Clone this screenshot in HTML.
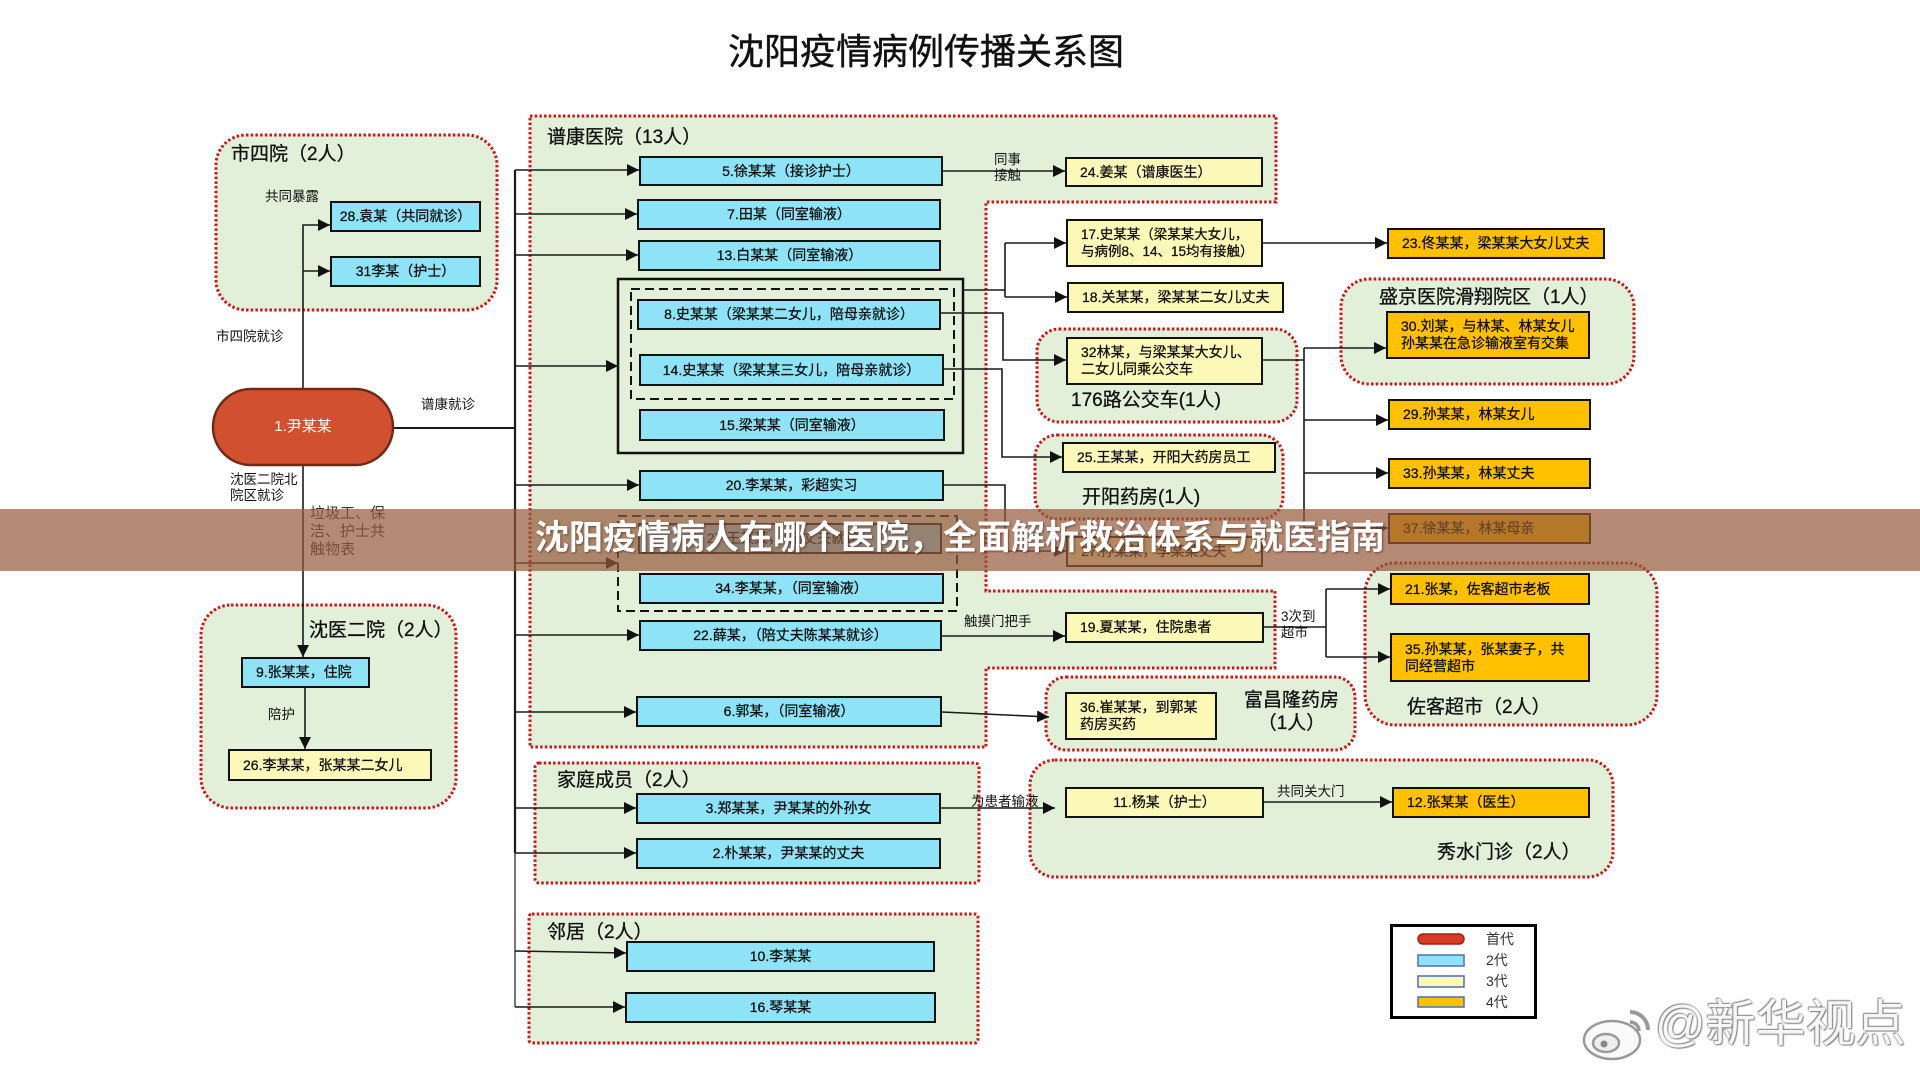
<!DOCTYPE html>
<html><head><meta charset="utf-8">
<style>
html,body{margin:0;padding:0;background:#fff;}
#c{position:relative;width:1920px;height:1080px;overflow:hidden;background:#fff;font-family:"Liberation Sans","Noto Sans CJK SC",sans-serif;color:#111;}
svg{position:absolute;left:0;top:0;}
.bx{position:absolute;box-sizing:border-box;border:2px solid #111;display:flex;align-items:center;justify-content:center;font-size:14px;line-height:17px;white-space:nowrap;-webkit-text-stroke:0.25px #000;}
.L{justify-content:flex-start;padding-left:13px;}
.b{background:#8fe3f6;}
.y{background:#fcf9b8;}
.o{background:#ffc000;}
.t{position:absolute;white-space:nowrap;line-height:1.15;}
.g{font-size:19px;-webkit-text-stroke:0.3px #111;}
.s{font-size:13.5px;}
</style></head><body>
<div id="c">
<svg width="1920" height="1080" viewBox="0 0 1920 1080">
<defs>
<marker id="a" markerWidth="12" markerHeight="12" refX="12" refY="6" orient="auto" markerUnits="userSpaceOnUse"><path d="M0,0 L12,6 L0,12 z" fill="#111"/></marker>
</defs>
<g fill="#e2efd9" stroke="#c41a1a" stroke-width="3" stroke-dasharray="2.5 2.2">
<rect x="216" y="135" width="281" height="175" rx="30"/>
<path d="M530,116 H1276 V202 H986 V591 H1275 V668 H986 V747 H530 Z"/>
<rect x="201" y="605" width="255" height="203" rx="30"/>
<rect x="535" y="763" width="444" height="120" rx="4"/>
<rect x="529" y="914" width="449" height="129" rx="3"/>
<rect x="1037" y="329" width="260" height="93" rx="22"/>
<rect x="1035" y="435" width="248" height="84" rx="22"/>
<rect x="1341" y="279" width="293" height="105" rx="28"/>
<rect x="1365" y="563" width="292" height="162" rx="30"/>
<rect x="1046" y="677" width="309" height="73" rx="20"/>
<rect x="1030" y="760" width="583" height="117" rx="25"/>
</g>
<rect x="618" y="279" width="345" height="174" fill="none" stroke="#111" stroke-width="2.5"/>
<rect x="631" y="289" width="323" height="110" fill="none" stroke="#111" stroke-width="2" stroke-dasharray="9 5"/>
<rect x="618" y="516" width="339" height="95" fill="none" stroke="#111" stroke-width="2" stroke-dasharray="9 5"/>
<g fill="none" stroke="#1a1a1a" stroke-width="1.6">
<polyline points="303,389 303,225 330,225" marker-end="url(#a)"/>
<polyline points="303,271 330,271" marker-end="url(#a)"/>
<line x1="393" y1="428" x2="515" y2="428" stroke-width="2"/>
<line x1="515" y1="170" x2="515" y2="853" stroke-width="2.2"/>
<line x1="515" y1="853" x2="515" y2="1007" stroke="#555"/>
<line x1="515" y1="170" x2="639" y2="170" marker-end="url(#a)"/>
<line x1="515" y1="214" x2="637" y2="214" marker-end="url(#a)"/>
<line x1="515" y1="255" x2="638" y2="255" marker-end="url(#a)"/>
<line x1="515" y1="366" x2="618" y2="366" marker-end="url(#a)"/>
<line x1="515" y1="485" x2="639" y2="485" marker-end="url(#a)"/>
<line x1="515" y1="563" x2="618" y2="563" marker-end="url(#a)"/>
<line x1="515" y1="635" x2="639" y2="635" marker-end="url(#a)"/>
<line x1="515" y1="712" x2="636" y2="712" marker-end="url(#a)"/>
<line x1="515" y1="808" x2="636" y2="808" marker-end="url(#a)"/>
<line x1="515" y1="853" x2="636" y2="853" marker-end="url(#a)"/>
<line x1="515" y1="951" x2="626" y2="953" marker-end="url(#a)"/>
<line x1="515" y1="1007" x2="625" y2="1007" marker-end="url(#a)"/>
<line x1="303" y1="465" x2="303" y2="657" marker-end="url(#a)"/>
<line x1="305" y1="688" x2="305" y2="749" marker-end="url(#a)"/>
<line x1="943" y1="171" x2="1065" y2="171" marker-end="url(#a)"/>
<polyline points="963,290 1005,290"/>
<polyline points="1005,243 1005,297"/>
<line x1="1005" y1="243" x2="1066" y2="243" marker-end="url(#a)"/>
<line x1="1005" y1="297" x2="1067" y2="297" marker-end="url(#a)"/>
<polyline points="941,313 1003,313 1003,360 1066,360" marker-end="url(#a)"/>
<polyline points="944,369 1002,369 1002,457 1062,457" marker-end="url(#a)"/>
<polyline points="944,485 1005,485 1005,551 1066,551" marker-end="url(#a)"/>
<line x1="942" y1="636" x2="1065" y2="636" marker-end="url(#a)"/>
<line x1="1263" y1="243" x2="1387" y2="243" marker-end="url(#a)"/>
<polyline points="1263,360 1304,360"/>
<line x1="1304" y1="348" x2="1304" y2="528"/>
<line x1="1304" y1="348" x2="1386" y2="348" marker-end="url(#a)"/>
<line x1="1304" y1="420" x2="1388" y2="420" marker-end="url(#a)"/>
<line x1="1304" y1="473" x2="1388" y2="473" marker-end="url(#a)"/>
<line x1="1304" y1="528" x2="1388" y2="528" marker-end="url(#a)"/>
<polyline points="1264,627 1326,627"/>
<line x1="1326" y1="589" x2="1326" y2="657"/>
<line x1="1326" y1="589" x2="1390" y2="589" marker-end="url(#a)"/>
<line x1="1326" y1="657" x2="1390" y2="657" marker-end="url(#a)"/>
<line x1="942" y1="712" x2="1049" y2="717" marker-end="url(#a)"/>
<line x1="941" y1="808" x2="1055" y2="808" marker-end="url(#a)"/>
<line x1="1264" y1="802" x2="1392" y2="802" marker-end="url(#a)"/>
</g>
<rect x="213" y="389" width="180" height="76" rx="38" fill="#d05030" stroke="#6e2a18" stroke-width="2.5"/>
<rect x="1391.5" y="925.5" width="144" height="92" fill="#fff" stroke="#000" stroke-width="3"/>
<rect x="1418" y="934" width="46" height="10" rx="5" fill="#d93a22" stroke="#a02010" stroke-width="1.5"/>
<rect x="1418" y="955" width="46" height="11" fill="#8fe3f6" stroke="#4a6fb5" stroke-width="1.5"/>
<rect x="1418" y="976" width="46" height="11" fill="#fcf9b8" stroke="#4a6fb5" stroke-width="1.5"/>
<rect x="1418" y="997" width="46" height="10" fill="#ffc000" stroke="#4a6fb5" stroke-width="1.5"/>
<g stroke="#999" stroke-width="2.5" fill="#fafafa">
<ellipse cx="1612" cy="1040" rx="28" ry="19"/>
<ellipse cx="1606" cy="1043" rx="13" ry="9" fill="#eee"/>
<circle cx="1604" cy="1044" r="3.5" fill="#888" stroke="none"/>
<path d="M1630,1012 a18,18 0 0 1 18,18" fill="none" stroke-width="4"/>
<path d="M1630,1022 a9,9 0 0 1 9,9" fill="none" stroke-width="3.5"/>
</g>
</svg>

<div class="t" style="left:728px;top:31px;font-size:36px;-webkit-text-stroke:0.4px #111;">沈阳疫情病例传播关系图</div>

<div class="t g" style="left:231px;top:144px;">市四院（2人）</div>
<div class="t g" style="left:547px;top:127px;">谱康医院（13人）</div>
<div class="t g" style="left:309px;top:620px;">沈医二院（2人）</div>
<div class="t g" style="left:557px;top:770px;">家庭成员（2人）</div>
<div class="t g" style="left:547px;top:922px;">邻居（2人）</div>
<div class="t g" style="left:1071px;top:390px;">176路公交车(1人)</div>
<div class="t g" style="left:1082px;top:487px;">开阳药房(1人)</div>
<div class="t g" style="left:1379px;top:287px;">盛京医院滑翔院区（1人）</div>
<div class="t g" style="left:1407px;top:697px;">佐客超市（2人）</div>
<div class="t g" style="left:1244px;top:689px;text-align:center;line-height:23px;">富昌隆药房<br>（1人）</div>
<div class="t g" style="left:1437px;top:842px;">秀水门诊（2人）</div>

<div class="t s" style="left:265px;top:189px;">共同暴露</div>
<div class="t s" style="left:216px;top:329px;">市四院就诊</div>
<div class="t s" style="left:421px;top:397px;">谱康就诊</div>
<div class="t s" style="left:230px;top:472px;line-height:16px;">沈医二院北<br>院区就诊</div>
<div class="t" style="left:310px;top:505px;font-size:15px;line-height:18px;color:#333;">垃圾工、保<br>洁、护士共<br>触物表</div>
<div class="t s" style="left:268px;top:707px;">陪护</div>
<div class="t s" style="left:994px;top:152px;line-height:16px;">同事<br>接触</div>
<div class="t s" style="left:964px;top:614px;">触摸门把手</div>
<div class="t s" style="left:1281px;top:609px;line-height:16px;">3次到<br>超市</div>
<div class="t s" style="left:971px;top:794px;">为患者输液</div>
<div class="t s" style="left:1277px;top:784px;">共同关大门</div>

<div class="t" style="left:213px;top:418px;width:180px;text-align:center;font-size:15px;color:#fff;">1.尹某某</div>

<div class="bx b" style="left:330px;top:201px;width:151px;height:31px;">28.袁某（共同就诊）</div>
<div class="bx b" style="left:330px;top:256px;width:151px;height:31px;">31李某（护士）</div>
<div class="bx b" style="left:639px;top:156px;width:304px;height:30px;">5.徐某某（接诊护士）</div>
<div class="bx b" style="left:637px;top:199px;width:304px;height:31px;">7.田某（同室输液）</div>
<div class="bx b" style="left:638px;top:240px;width:303px;height:31px;">13.白某某（同室输液）</div>
<div class="bx b" style="left:637px;top:299px;width:304px;height:31px;">8.史某某（梁某某二女儿，陪母亲就诊）</div>
<div class="bx b" style="left:639px;top:354px;width:305px;height:32px;">14.史某某（梁某某三女儿，陪母亲就诊）</div>
<div class="bx b" style="left:639px;top:409px;width:306px;height:32px;">15.梁某某（同室输液）</div>
<div class="bx b" style="left:639px;top:470px;width:305px;height:31px;">20.李某某，彩超实习</div>
<div class="bx b" style="left:638px;top:523px;width:304px;height:31px;">27.王某某，（陪丈夫就诊）</div>
<div class="bx b" style="left:639px;top:573px;width:305px;height:31px;">34.李某某，（同室输液）</div>
<div class="bx b" style="left:639px;top:620px;width:303px;height:31px;">22.薛某，（陪丈夫陈某某就诊）</div>
<div class="bx b" style="left:636px;top:696px;width:306px;height:31px;">6.郭某，（同室输液）</div>
<div class="bx b" style="left:636px;top:793px;width:305px;height:31px;">3.郑某某，尹某某的外孙女</div>
<div class="bx b" style="left:636px;top:838px;width:305px;height:31px;">2.朴某某，尹某某的丈夫</div>
<div class="bx b" style="left:626px;top:941px;width:309px;height:31px;">10.李某某</div>
<div class="bx b" style="left:625px;top:992px;width:311px;height:31px;">16.琴某某</div>
<div class="bx b L" style="left:241px;top:657px;width:129px;height:31px;">9.张某某，住院</div>

<div class="bx y L" style="left:1065px;top:157px;width:198px;height:30px;">24.姜某（谱康医生）</div>
<div class="bx y L" style="left:1066px;top:219px;width:197px;height:48px;font-size:13.5px;">17.史某某（梁某某大女儿，<br>与病例8、14、15均有接触）</div>
<div class="bx y L" style="left:1067px;top:282px;width:217px;height:31px;">18.关某某，梁某某二女儿丈夫</div>
<div class="bx y L" style="left:1066px;top:337px;width:197px;height:48px;">32林某，与梁某某大女儿、<br>二女儿同乘公交车</div>
<div class="bx y L" style="left:1062px;top:442px;width:214px;height:31px;">25.王某某，开阳大药房员工</div>
<div class="bx y L" style="left:1066px;top:536px;width:197px;height:31px;">27.孙某某，李某某丈夫</div>
<div class="bx y L" style="left:1065px;top:612px;width:199px;height:31px;">19.夏某某，住院患者</div>
<div class="bx y L" style="left:1065px;top:692px;width:152px;height:48px;">36.崔某某，到郭某<br>药房买药</div>
<div class="bx y" style="left:1065px;top:787px;width:199px;height:31px;">11.杨某（护士）</div>
<div class="bx y L" style="left:228px;top:749px;width:204px;height:32px;">26.李某某，张某某二女儿</div>

<div class="bx o L" style="left:1387px;top:228px;width:218px;height:31px;">23.佟某某，梁某某大女儿丈夫</div>
<div class="bx o L" style="left:1386px;top:311px;width:204px;height:48px;">30.刘某，与林某、林某女儿<br>孙某某在急诊输液室有交集</div>
<div class="bx o L" style="left:1388px;top:399px;width:203px;height:31px;">29.孙某某，林某女儿</div>
<div class="bx o L" style="left:1388px;top:458px;width:203px;height:31px;">33.孙某某，林某丈夫</div>
<div class="bx o L" style="left:1388px;top:513px;width:203px;height:31px;">37.徐某某，林某母亲</div>
<div class="bx o L" style="left:1390px;top:573px;width:200px;height:32px;">21.张某，佐客超市老板</div>
<div class="bx o L" style="left:1390px;top:633px;width:200px;height:49px;">35.孙某某，张某妻子，共<br>同经营超市</div>
<div class="bx o L" style="left:1392px;top:787px;width:198px;height:31px;">12.张某某（医生）</div>

<div class="t" style="left:1486px;top:929px;font-size:14px;line-height:21px;color:#333;">首代<br>2代<br>3代<br>4代</div>

<div class="t" style="left:1655px;top:996px;font-size:50px;color:#f6f6f6;text-shadow:0 0 2px #777,1px 1px 1px #888,-1px -1px 1px #999;">@新华视点</div>

<div style="position:absolute;left:0;top:509px;width:1920px;height:62px;background:rgba(150,90,60,0.7);"></div>
<div class="t" style="left:0;top:519px;width:1920px;text-align:center;font-size:34px;font-weight:bold;color:#fff;text-shadow:1px 1px 2px rgba(60,30,20,0.6);">沈阳疫情病人在哪个医院，全面解析救治体系与就医指南</div>
</div>
</body></html>
